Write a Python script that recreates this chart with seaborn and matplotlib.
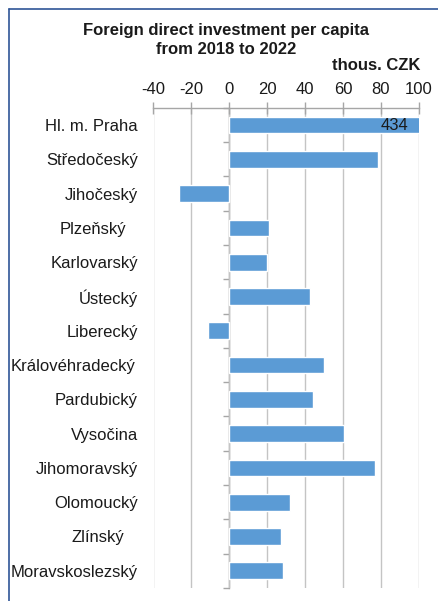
import matplotlib
matplotlib.use("Agg")
import matplotlib.pyplot as plt
from matplotlib.lines import Line2D
import numpy as np
import pandas as pd
import seaborn as sns

# Regions of the Czech Republic and FDI per capita (thous. CZK), 2018-2022
regions = [
    "Hl. m. Praha", "Středočeský", "Jihočeský", "Plzeňský", "Karlovarský",
    "Ústecký", "Liberecký", "Královéhradecký", "Pardubický", "Vysočina",
    "Jihomoravský", "Olomoucký", "Zlínský", "Moravskoslezský",
]
fdi_per_capita = [434, 78.3, -26.7, 21.0, 19.7, 42.8, -11.1, 49.8, 44.0,
                  60.5, 76.9, 32.0, 27.3, 28.3]
x_ticks = [-40, -20, 0, 20, 40, 60, 80, 100]
title_lines = ["Foreign direct investment per capita", "from 2018 to 2022"]
unit_label = "thous. CZK"

BAR = "#5B9BD5"
AXIS_GREY = "#a6a6a6"
GRID_GREY = "#c4c4c4"
TEXT = "#1a1a1a"
FRAME = "#2F5597"

sns.set_theme(style="white")
plt.rcParams["font.family"] = ["Liberation Sans", "DejaVu Sans"]
plt.rcParams["axes.unicode_minus"] = False

W, H = 438, 601
fig = plt.figure(figsize=(W / 100, H / 100), dpi=100)
left, right, top, bottom = 153.5, 418.7, 107.9, 587.9
ax = fig.add_axes([left / W, (H - bottom) / H, (right - left) / W, (bottom - top) / H])

df = pd.DataFrame({"region": regions, "value": fdi_per_capita})
sns.barplot(data=df, x="value", y="region", orient="h", color=BAR,
            saturation=1, width=0.49, ax=ax)

xmin, xmax = x_ticks[0], x_ticks[-1]
ax.set_xlim(xmin, xmax)
ax.set_xticks(x_ticks)
ax.set_xlabel("")
ax.set_ylabel("")
ax.xaxis.tick_top()
ax.tick_params(axis="x", which="major", top=True, bottom=False,
               direction="inout", length=8, width=1, color=AXIS_GREY,
               labelsize=12, labelcolor=TEXT, pad=4)
ax.tick_params(axis="y", which="major", left=True, length=0,
               labelsize=12, labelcolor=TEXT, pad=11.2)
# a few labels sit a little further from the axis
extra_pad = {"Plzeňský": 8.6, "Královéhradecký": 2.2, "Zlínský": 10.0}
for tick, name in zip(ax.yaxis.get_major_ticks(), regions):
    if name in extra_pad:
        tick.set_pad(11.2 + extra_pad[name])

ax.grid(axis="x", color=GRID_GREY, linewidth=1)
ax.set_axisbelow(True)
for side in ("left", "right", "bottom"):
    ax.spines[side].set_visible(False)
ax.spines["top"].set_color(AXIS_GREY)
ax.spines["top"].set_linewidth(1)

# Category axis drawn along the zero line with boundary ticks
zero_pos = (0 - xmin) / (xmax - xmin)
sec = ax.secondary_yaxis(zero_pos)
sec.set_yticks(np.arange(-0.5, len(regions)), labels=[])
sec.tick_params(direction="out", length=4, width=1, color=AXIS_GREY)
sec.spines["left"].set_color(AXIS_GREY)
sec.spines["left"].set_linewidth(1)

# Value of the bar that runs beyond the axis range
ax.annotate(f"{fdi_per_capita[0]:.0f}", xy=(xmax, 0), xytext=(-7.5, 0),
            textcoords="offset points", ha="right", va="center",
            fontsize=12, color=TEXT)

fig.text(226 / W, 1 - 35 / H, title_lines[0], ha="center", va="baseline",
         fontsize=12, fontweight="bold", color=TEXT)
fig.text(226 / W, 1 - 54 / H, title_lines[1], ha="center", va="baseline",
         fontsize=12, fontweight="bold", color=TEXT)
fig.text(420 / W, 1 - 70 / H, unit_label, ha="right", va="baseline",
         fontsize=12, fontweight="bold", color=TEXT)

# Frame lines on the left and top edges
fig.add_artist(Line2D([8.5 / W, 8.5 / W], [0, 1 - 9 / H], transform=fig.transFigure,
                      color=FRAME, linewidth=1.2))
fig.add_artist(Line2D([8.5 / W, 1], [1 - 9 / H, 1 - 9 / H], transform=fig.transFigure,
                      color=FRAME, linewidth=1.2))

fig.savefig("out.png", dpi=100)
